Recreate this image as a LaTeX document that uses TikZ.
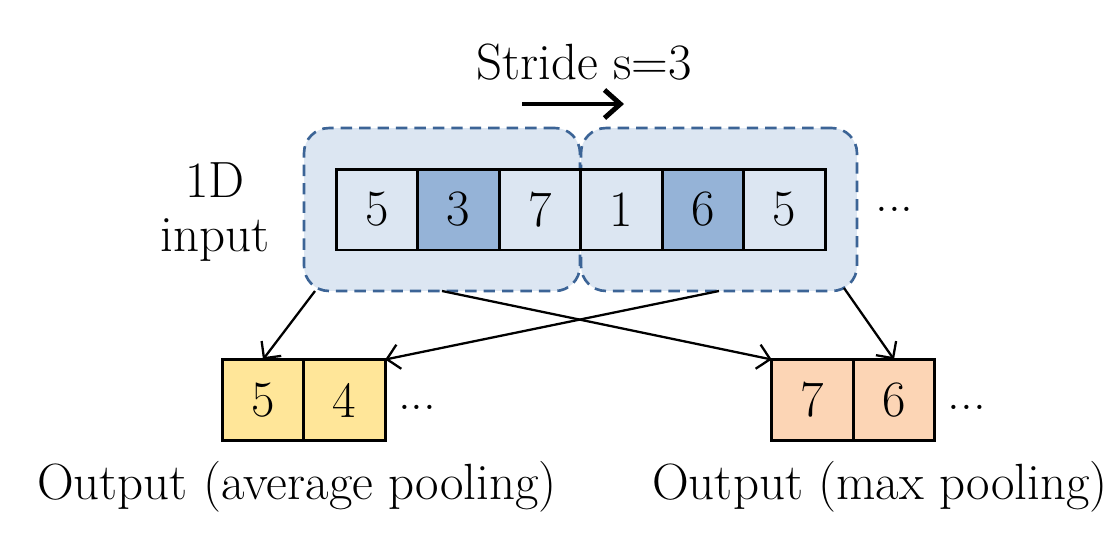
\documentclass[tikz,border=0pt]{standalone}
\usepackage{xcolor}
\usepackage{tikz}
\usetikzlibrary{positioning, arrows.meta}

\definecolor{cellblue}{HTML}{DCE6F2}
\definecolor{darkblue}{HTML}{95B3D7}
\definecolor{dashblue}{HTML}{3C6496}
\definecolor{avgyellow}{HTML}{FFE699}
\definecolor{maxorange}{HTML}{FCD5B5}
\newcommand{\labelfont}{\fontsize{29}{31}\selectfont}

\tikzset{
  cell/.style={rectangle, draw, line width=1.7pt, outer sep=0pt, minimum width=1.63cm, minimum height=1.62cm, font=\labelfont},
  win/.style={rectangle, rounded corners=0.5cm, outer sep=0pt, minimum width=5.52cm, minimum height=3.26cm},
  windash/.style={win, draw=dashblue, line width=1.5pt, dash pattern=on 6.5pt off 4pt},
  pool/.style={-{Straight Barb[length=7pt, width=14pt]}, line width=1.3pt},
  txt/.style={font=\labelfont, inner sep=0pt}
}

\begin{document}
\begin{tikzpicture}[x=0.02cm, y=-0.02cm, node distance=0pt]
		\useasboundingbox (0,0) rectangle (1116,539);
		% pooling windows
		\node[win, fill=cellblue] (win1) at (442,209.5) {};
		\node[win, fill=cellblue] (win2) at (719,209.5) {};
		\node[windash] at (win1) {};
		\node[windash] at (win2) {};
		
		% 1D input
		\node[cell, fill=cellblue] (in1) at (377,209.5) {5};
		\node[cell, fill=darkblue, right=of in1] (in2) {3};
		\node[cell, fill=cellblue, right=of in2] (in3) {7};
		\node[cell, fill=cellblue, right=of in3] (in4) {1};
		\node[cell, fill=darkblue, right=of in4] (in5) {6};
		\node[cell, fill=cellblue, right=of in5] (in6) {5};
		\node[txt, right=1cm of in6] (indots) {...};
		\node[txt, align=center] (inlabel) at (215,212) {1D\\input};
		
		% stride
		\node[txt] (stride) at (584,62) {Stride s=3};
		\coordinate (stridestart) at (522,104);
		\coordinate (strideend) at (624,104);
		\draw[-{Straight Barb[length=9pt, width=16pt]}, line width=2.8pt] (stridestart) -- (strideend);
		
		% outputs
		\node[cell, fill=avgyellow] (avg1) at (263,400) {5};
		\node[cell, fill=avgyellow, right=of avg1] (avg2) {4};
		\node[txt, right=0.25cm of avg2, yshift=-4pt] (avgdots) {...};
		\node[cell, fill=maxorange] (max1) at (812.5,400) {7};
		\node[cell, fill=maxorange, right=of max1] (max2) {6};
		\node[txt, right=0.25cm of max2, yshift=-4pt] (maxdots) {...};
		\node[txt] (avglabel) at (297,487) {Output (average pooling)};
		\node[txt] (maxlabel) at (880,487) {Output (max pooling)};
		
		\draw[pool] ([xshift=0.22cm]win1.south west) -- (avg1.north);
		\draw[pool] (win1.south) -- (max1.north west);
		\draw[pool] (win2.south) -- (avg2.north east);
		\draw[pool] ([xshift=-0.26cm, yshift=0.06cm]win2.south east) -- (max2.north);
		\end{tikzpicture}
\end{document}
